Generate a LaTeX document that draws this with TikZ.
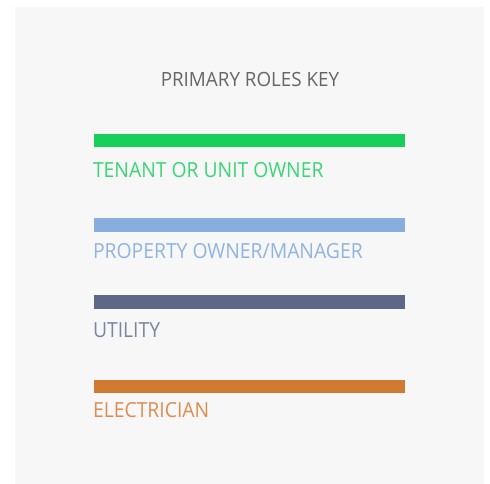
\documentclass[tikz,border=0pt]{standalone}
\usepackage{fontspec}
\setmainfont{Open Sans}
\newfontfamily\keyfont[FakeStretch=0.93]{Open Sans}
\newfontfamily\titlefont[FakeStretch=0.96]{Open Sans}
\definecolor{bgc}{HTML}{F7F7F7}
\definecolor{titlec}{HTML}{666666}
\definecolor{greenbar}{HTML}{19CF5C}
\definecolor{greentxt}{HTML}{3AD576}
\definecolor{bluebar}{HTML}{87AEDC}
\definecolor{bluetxt}{HTML}{90B4E0}
\definecolor{utilbar}{HTML}{5C6885}
\definecolor{utiltxt}{HTML}{7A85A0}
\definecolor{orangebar}{HTML}{D17A32}
\definecolor{orangetxt}{HTML}{DC8D50}
\tikzset{
  keybar/.style={inner sep=0pt, outer sep=0pt, minimum width=311pt, minimum height=13.5pt, anchor=north west},
  keylabel/.style={inner sep=0pt, outer sep=0pt, anchor=base west, font=\keyfont\fontsize{20.8}{22}\selectfont},
}
\begin{document}
\begin{tikzpicture}[x=1pt,y=-1pt]
\useasboundingbox (0,0) rectangle (490,484);
\fill[bgc] (15,7) rectangle (484,484);
\node[inner sep=0pt, anchor=base, text=titlec, font=\titlefont\fontsize{19.6}{21}\selectfont] (title) at (250,86.6) {PRIMARY ROLES KEY};
\node[keybar, fill=greenbar] (bar1) at (94,134) {};
\node[keylabel, text=greentxt] (lab1) at (93,177.3) {TENANT OR UNIT OWNER};
\node[keybar, fill=bluebar] (bar2) at (94,218.3) {};
\node[keylabel, text=bluetxt] (lab2) at (93,258) {PROPERTY OWNER/MANAGER};
\node[keybar, fill=utilbar] (bar3) at (94,295) {};
\node[keylabel, text=utiltxt] (lab3) at (93,337.3) {UTILITY};
\node[keybar, fill=orangebar] (bar4) at (94,379.5) {};
\node[keylabel, text=orangetxt] (lab4) at (93,417) {ELECTRICIAN};
\end{tikzpicture}
\end{document}
